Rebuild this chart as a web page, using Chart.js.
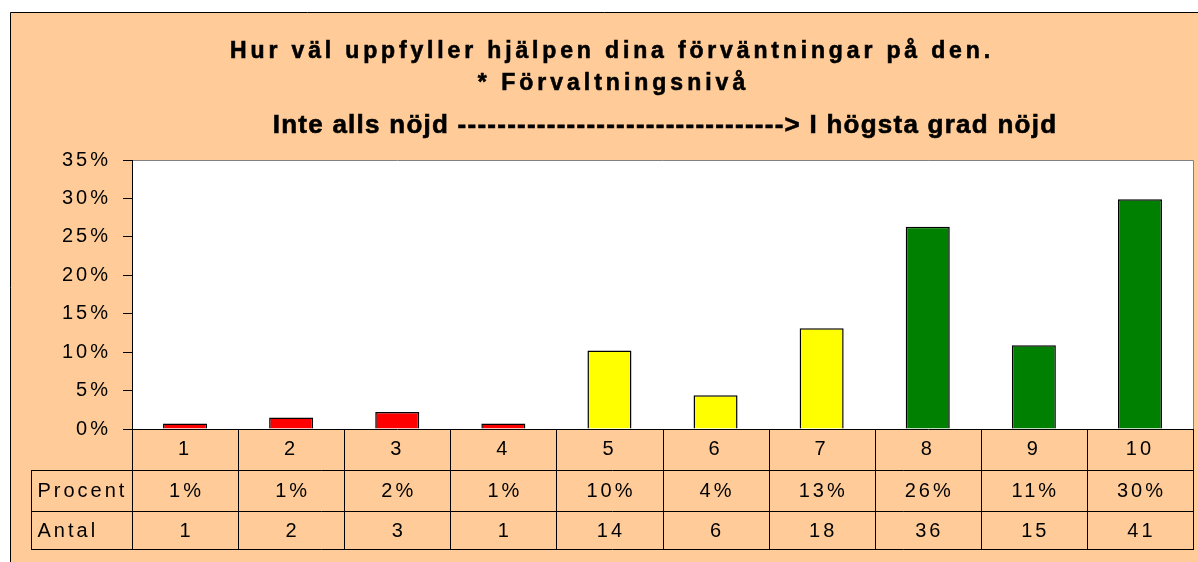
<!DOCTYPE html>
<html><head><meta charset="utf-8">
<style>html,body{margin:0;padding:0;background:#fff;overflow:hidden}canvas{display:block}</style>
<script src="https://cdn.jsdelivr.net/npm/chart.js@4.4.1/dist/chart.umd.min.js"></script>
</head><body><canvas id="c" width="1198" height="562"></canvas>
<script>
const titleLines = [
  'Hur väl uppfyller hjälpen dina förväntningar på den.',
  '* Förvaltningsnivå',
  'Inte alls nöjd ---------------------------------> I högsta grad nöjd'
];
const categories = ['1','2','3','4','5','6','7','8','9','10'];
const percentValues = [0.7, 1.5, 2.2, 0.7, 10.2, 4.4, 13.1, 26.3, 10.9, 29.9];
const percentLabels = ['1%','1%','2%','1%','10%','4%','13%','26%','11%','30%'];
const counts = [1, 2, 3, 1, 14, 6, 18, 36, 15, 41];
const rowNames = ['Procent', 'Antal'];
const yMin = 0, yMax = 35, yStep = 5;
const barColors = ['#FF0000','#FF0000','#FF0000','#FF0000','#FFFF00','#FFFF00','#FFFF00','#008000','#008000','#008000'];

const FAMILY = '"Liberation Sans", Arial, sans-serif';
const PEACH = '#FFCC99';

const bgPlugin = {
  id: 'bg',
  beforeUpdate(chart) { chart.ctx.letterSpacing = '3px'; },
  beforeDraw(chart) {
    const ctx = chart.ctx, a = chart.chartArea;
    ctx.save();
    ctx.letterSpacing = '0px';
    ctx.fillStyle = '#fff';
    ctx.fillRect(0, 0, chart.width, chart.height);
    ctx.fillStyle = PEACH;
    ctx.fillRect(10, 12, chart.width, chart.height);
    ctx.strokeStyle = '#000'; ctx.lineWidth = 1;
    ctx.beginPath();
    ctx.moveTo(10.5, chart.height); ctx.lineTo(10.5, 12.5); ctx.lineTo(chart.width, 12.5);
    ctx.stroke();
    ctx.fillStyle = '#fff';
    ctx.fillRect(a.left, a.top, a.right - a.left, a.bottom - a.top);
    ctx.strokeStyle = '#808080';
    ctx.beginPath();
    ctx.moveTo(a.left, Math.round(a.top) + 0.5); ctx.lineTo(Math.round(a.right) + 0.5, Math.round(a.top) + 0.5);
    ctx.lineTo(Math.round(a.right) + 0.5, a.bottom);
    ctx.stroke();
    ctx.restore();
    ctx.letterSpacing = '3px';
  },
  afterDraw(chart) {
    const ctx = chart.ctx;
    ctx.save();
    ctx.fillStyle = '#000';
    ctx.strokeStyle = '#000';
    ctx.lineWidth = 0.6;
    ctx.textAlign = 'center';
    ctx.textBaseline = 'alphabetic';
    const line = (t, x, y) => { ctx.fillText(t, x, y); ctx.strokeText(t, x, y); };
    ctx.font = 'bold 23px ' + FAMILY;
    ctx.letterSpacing = '3.85px';
    line(titleLines[0], 612, 58);
    ctx.letterSpacing = '4px';
    line(titleLines[1], 613.5, 90);
    ctx.font = 'bold 26px ' + FAMILY;
    ctx.letterSpacing = '1.25px';
    line(titleLines[2], 665, 133);
    ctx.restore();
  }
};

const tablePlugin = {
  id: 'table',
  afterDraw(chart) {
    const ctx = chart.ctx, xs = chart.scales.x, a = chart.chartArea;
    const n = categories.length;
    const r0 = xs.top, r1 = xs.bottom, r2 = r1 + 41, r3 = r2 + 38;
    const labelLeft = 31;
    const bounds = [a.left];
    for (let i = 0; i < n - 1; i++) bounds.push((xs.getPixelForValue(i) + xs.getPixelForValue(i + 1)) / 2);
    bounds.push(a.right);
    const P = v => Math.round(v) + 0.5;
    ctx.save();
    ctx.strokeStyle = '#000'; ctx.lineWidth = 1;
    ctx.beginPath();
    [r1, r2, r3].forEach(y => { ctx.moveTo(labelLeft, P(y)); ctx.lineTo(P(a.right) + 0.5, P(y)); });
    ctx.moveTo(P(labelLeft), P(r1)); ctx.lineTo(P(labelLeft), P(r3));
    bounds.forEach(x => { ctx.moveTo(P(x), r0); ctx.lineTo(P(x), P(r3)); });
    ctx.stroke();
    ctx.fillStyle = '#000';
    ctx.font = '20px ' + FAMILY;
    ctx.letterSpacing = '3px';
    ctx.textBaseline = 'middle';
    const rows = [percentLabels, counts];
    const ys = [(r1 + r2) / 2 + 1, (r2 + r3) / 2 + 1];
    ctx.textAlign = 'left';
    rowNames.forEach((name, k) => ctx.fillText(name, labelLeft + 6.5, ys[k]));
    ctx.textAlign = 'center';
    rows.forEach((row, k) => {
      row.forEach((v, i) => ctx.fillText(String(v), (bounds[i] + bounds[i + 1]) / 2 + 1.5, ys[k]));
    });
    ctx.restore();
  }
};

new Chart(document.getElementById('c'), {
  type: 'bar',
  data: {
    labels: categories,
    datasets: [{
      data: percentValues,
      backgroundColor: barColors,
      borderColor: '#000',
      borderWidth: 1.5,
      barPercentage: 0.415,
      categoryPercentage: 1
    }]
  },
  options: {
    responsive: false,
    animation: false,
    devicePixelRatio: 1,
    layout: { padding: { top: 160, right: 5, bottom: 92, left: 0 } },
    plugins: { legend: { display: false }, tooltip: { enabled: false }, title: { display: false } },
    scales: {
      x: {
        grid: { display: false, drawTicks: false },
        border: { display: true, color: '#000', width: 1 },
        ticks: { color: '#000', font: { family: FAMILY, size: 20 }, padding: 8.5, maxRotation: 0, autoSkip: false },
        afterFit(s) { s.height = 41; }
      },
      y: {
        min: yMin, max: yMax,
        grid: { drawOnChartArea: false, drawTicks: true, tickLength: 9, color: '#000' },
        border: { display: true, color: '#000', width: 1 },
        ticks: { stepSize: yStep, color: '#000', font: { family: FAMILY, size: 20 }, padding: 12, callback: v => v + '%' },
        afterFit(s) { s.width = 132; }
      }
    }
  },
  plugins: [bgPlugin, tablePlugin]
});
</script>
</body></html>
